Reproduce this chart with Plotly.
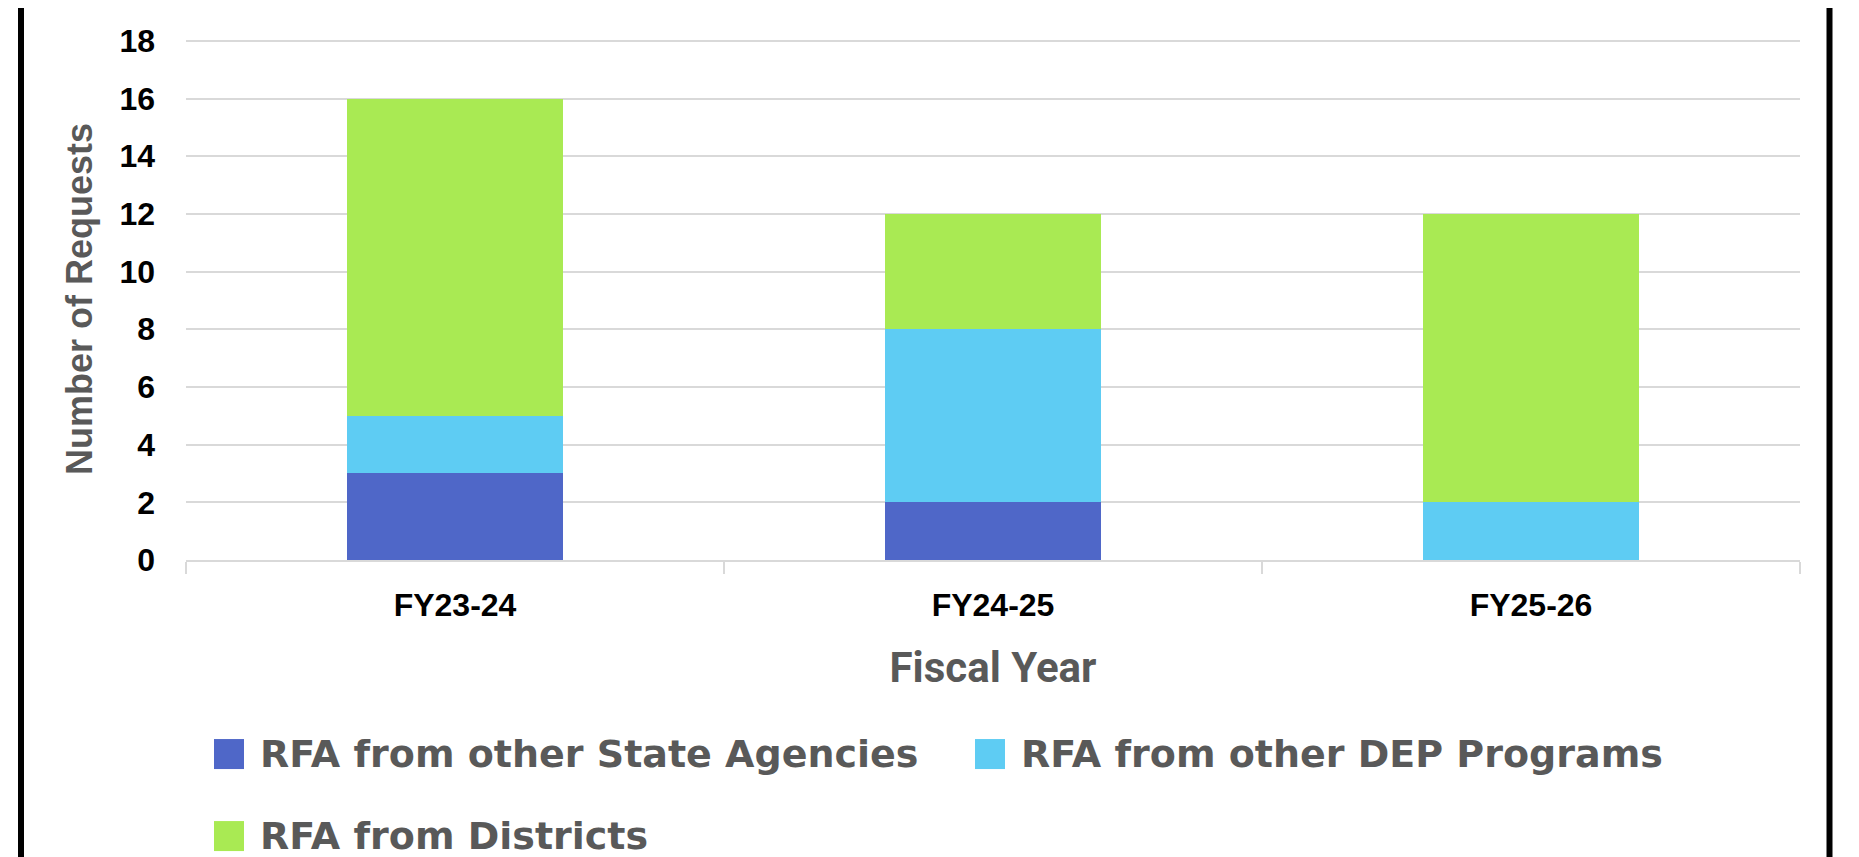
import plotly.graph_objects as go

# ---- data ----
categories = ["FY23-24", "FY24-25", "FY25-26"]
series_names = ["RFA from other State Agencies", "RFA from other DEP Programs", "RFA from Districts"]
state_agencies = [3, 2, 0]
dep_programs = [2, 6, 2]
districts = [11, 4, 10]
y_ticks = [0, 2, 4, 6, 8, 10, 12, 14, 16, 18]

colors = ["#4F67C8", "#5ECCF3", "#A9EA53"]

# page-space targets (page body has an 8px margin)
OFF = 8
PAGE_W, PAGE_H = 1859, 857
W, H = PAGE_W - OFF, PAGE_H - OFF
Y_MAX = 18.1
PLOT_L, PLOT_R, PLOT_B = 186, 1800, 560
PLOT_T = PLOT_B - (PLOT_B - 41) * Y_MAX / 18
L, T = PLOT_L - OFF, PLOT_T - OFF
R, B = W - (PLOT_R - OFF), H - (PLOT_B - OFF)
PW, PH = PLOT_R - PLOT_L, PLOT_B - PLOT_T


def px(x):
    return (x - PLOT_L) / PW


def py(y):
    return (PLOT_B - y) / PH


fig = go.Figure()
for name, vals, col in zip(series_names, [state_agencies, dep_programs, districts], colors):
    fig.add_trace(go.Bar(x=categories, y=vals, name=name, marker_color=col,
                         marker_line_width=0, showlegend=False))

fig.update_layout(
    width=W, height=H,
    margin=dict(l=L, r=R, t=T, b=B, pad=0),
    barmode="stack", bargap=0.6,
    plot_bgcolor="white", paper_bgcolor="white",
    font=dict(family="Liberation Sans, Arial, sans-serif"),
)

fig.update_yaxes(
    range=[0, Y_MAX], tickvals=y_ticks, showgrid=True, gridcolor="#D9D9D9", gridwidth=2,
    zeroline=False, showline=False, ticks="",
    tickfont=dict(family="Liberation Sans, Arial", size=32, color="#000000", weight="bold"),
    ticklabelstandoff=30,
    title=dict(text="Number of Requests", standoff=15,
               font=dict(family="Liberation Sans, Arial", size=36, color="#595959", weight="bold")),
)
fig.update_xaxes(
    showline=True, linecolor="#D9D9D9", linewidth=2,
    ticks="outside", tickson="boundaries", ticklen=12, tickcolor="#D9D9D9", tickwidth=2,
    tickfont=dict(family="Liberation Sans, Arial", size=32, color="#000000", weight="bold"),
    ticklabelstandoff=16,
    title=dict(text="Fiscal Year", standoff=30,
               font=dict(family="Roboto, Liberation Sans", size=42, color="#595959", weight="bold")),
)

# outer frame lines (left / right)
for xline in (21, 1829.5):
    fig.add_shape(type="line", xref="paper", yref="paper", x0=px(xline), x1=px(xline),
                  y0=py(PAGE_H + 20), y1=py(-20), line=dict(color="black", width=6))

# legend (manual, to match layout)
legend_pos = [(214, 258, 754), (975, 1019, 754), (214, 258, 836)]
for (sx, tx, cy), name, col in zip(legend_pos, series_names, colors):
    fig.add_shape(type="rect", xref="paper", yref="paper",
                  x0=px(sx), x1=px(sx + 30), y0=py(cy + 15), y1=py(cy - 15),
                  fillcolor=col, line_width=0)
    fig.add_annotation(text=name, xref="paper", yref="paper", x=px(tx), y=py(cy),
                       xanchor="left", yanchor="middle", showarrow=False,
                       font=dict(family="DejaVu Sans", size=38, color="#595959", weight="bold"))

fig.write_html("out.html")
